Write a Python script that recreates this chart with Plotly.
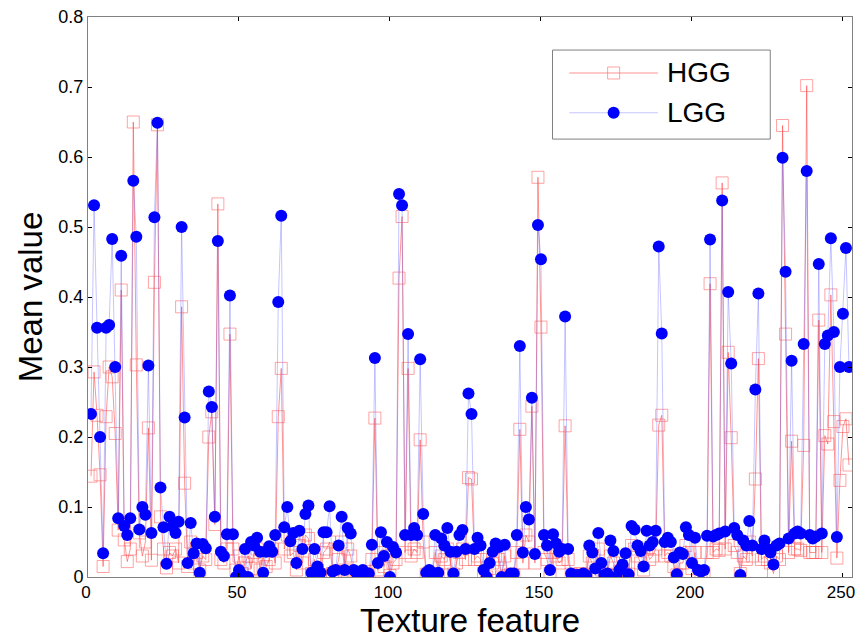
import plotly.graph_objects as go

# Mean value of each texture feature (index 1..252)
hgg = [
    0.144, 0.293, 0.231, 0.146, 0.015, 0.229, 0.300, 0.286, 0.205, 0.067,
    0.410, 0.053, 0.022, 0.040, 0.650, 0.303, 0.063, 0.030, 0.050, 0.213,
    0.024, 0.421, 0.646, 0.086, 0.040, 0.013, 0.035, 0.030, 0.040, 0.020,
    0.386, 0.134, 0.015, 0.050, 0.020, 0.035, 0.010, 0.030, 0.025, 0.200,
    0.236, 0.075, 0.533, 0.025, 0.020, 0.040, 0.347, 0.040, 0.010, 0.030,
    0.005, 0.020, 0.030, 0.012, 0.035, 0.040, 0.010, 0.030, 0.015, 0.025,
    0.040, 0.020, 0.229, 0.298, 0.040, 0.060, 0.030, 0.035, 0.010, 0.045,
    0.020, 0.060, 0.055, 0.005, 0.025, 0.010, 0.003, 0.035, 0.040, 0.050,
    0.005, 0.008, 0.025, 0.050, 0.010, 0.040, 0.030, 0.005, 0.003, 0.000,
    0.005, 0.002, 0.004, 0.025, 0.227, 0.010, 0.035, 0.015, 0.030, 0.002,
    0.020, 0.025, 0.427, 0.515, 0.035, 0.298, 0.030, 0.040, 0.035, 0.196,
    0.050, 0.004, 0.006, 0.004, 0.035, 0.003, 0.030, 0.025, 0.040, 0.020,
    0.004, 0.020, 0.035, 0.040, 0.025, 0.142, 0.140, 0.025, 0.030, 0.025,
    0.005, 0.000, 0.012, 0.020, 0.030, 0.025, 0.000, 0.030, 0.002, 0.004,
    0.003, 0.035, 0.211, 0.020, 0.060, 0.050, 0.244, 0.020, 0.571, 0.357,
    0.035, 0.025, 0.005, 0.035, 0.030, 0.020, 0.025, 0.216, 0.025, 0.004,
    0.002, 0.003, 0.005, 0.002, 0.004, 0.030, 0.020, 0.008, 0.040, 0.010,
    0.003, 0.004, 0.030, 0.020, 0.002, 0.008, 0.010, 0.020, 0.004, 0.045,
    0.040, 0.030, 0.020, 0.010, 0.040, 0.025, 0.030, 0.040, 0.217, 0.231,
    0.030, 0.035, 0.030, 0.015, 0.003, 0.020, 0.020, 0.045, 0.035, 0.012,
    0.035, 0.005, 0.004, 0.006, 0.035, 0.419, 0.035, 0.040, 0.038, 0.563,
    0.040, 0.321, 0.199, 0.045, 0.035, 0.005, 0.030, 0.025, 0.050, 0.030,
    0.140, 0.312, 0.025, 0.030, 0.025, 0.020, 0.005, 0.030, 0.025, 0.645,
    0.347, 0.035, 0.194, 0.040, 0.040, 0.038, 0.188, 0.702, 0.035, 0.035,
    0.035, 0.367, 0.035, 0.202, 0.190, 0.403, 0.222, 0.027, 0.138, 0.215,
    0.226, 0.160,
]

lgg = [
    0.233, 0.531, 0.356, 0.200, 0.034, 0.356, 0.360, 0.483, 0.300, 0.084,
    0.459, 0.073, 0.060, 0.084, 0.566, 0.486, 0.068, 0.100, 0.089, 0.302,
    0.063, 0.514, 0.649, 0.128, 0.071, 0.019, 0.086, 0.072, 0.063, 0.079,
    0.500, 0.228, 0.020, 0.077, 0.034, 0.048, 0.006, 0.047, 0.041, 0.265,
    0.243, 0.086, 0.480, 0.036, 0.030, 0.061, 0.402, 0.061, 0.000, 0.010,
    0.003, 0.040, 0.000, 0.050, 0.045, 0.056, 0.036, 0.006, 0.036, 0.044,
    0.036, 0.060, 0.393, 0.516, 0.071, 0.100, 0.051, 0.063, 0.020, 0.066,
    0.040, 0.090, 0.102, 0.006, 0.040, 0.015, 0.006, 0.064, 0.064, 0.101,
    0.008, 0.010, 0.045, 0.086, 0.010, 0.070, 0.062, 0.010, 0.005, 0.000,
    0.010, 0.003, 0.005, 0.046, 0.313, 0.020, 0.064, 0.030, 0.050, 0.000,
    0.043, 0.035, 0.547, 0.531, 0.060, 0.347, 0.060, 0.070, 0.060, 0.311,
    0.090, 0.006, 0.010, 0.006, 0.060, 0.006, 0.055, 0.045, 0.070, 0.036,
    0.005, 0.036, 0.060, 0.067, 0.040, 0.262, 0.233, 0.040, 0.056, 0.045,
    0.010, 0.000, 0.020, 0.036, 0.048, 0.043, 0.000, 0.046, 0.000, 0.005,
    0.005, 0.060, 0.330, 0.035, 0.100, 0.082, 0.256, 0.033, 0.503, 0.454,
    0.060, 0.045, 0.010, 0.061, 0.048, 0.036, 0.040, 0.372, 0.040, 0.005,
    0.000, 0.003, 0.000, 0.005, 0.002, 0.045, 0.035, 0.012, 0.063, 0.020,
    0.003, 0.005, 0.052, 0.037, 0.000, 0.010, 0.018, 0.034, 0.004, 0.073,
    0.068, 0.045, 0.037, 0.015, 0.066, 0.045, 0.050, 0.066, 0.472, 0.348,
    0.050, 0.056, 0.050, 0.028, 0.004, 0.035, 0.033, 0.071, 0.060, 0.020,
    0.056, 0.010, 0.008, 0.010, 0.059, 0.482, 0.058, 0.060, 0.062, 0.538,
    0.065, 0.407, 0.305, 0.070, 0.060, 0.003, 0.052, 0.045, 0.080, 0.045,
    0.268, 0.405, 0.040, 0.052, 0.040, 0.035, 0.018, 0.045, 0.048, 0.599,
    0.436, 0.055, 0.309, 0.062, 0.065, 0.062, 0.333, 0.580, 0.060, 0.055,
    0.058, 0.447, 0.062, 0.333, 0.345, 0.484, 0.350, 0.057, 0.300, 0.376,
    0.470, 0.300,
]

features = list(range(1, len(lgg) + 1))
x_ticks = [0, 50, 100, 150, 200, 250]
y_ticks = [0, 0.1, 0.2, 0.3, 0.4, 0.5, 0.6, 0.7, 0.8]
y_tick_text = ["0", "0.1", "0.2", "0.3", "0.4", "0.5", "0.6", "0.7", "0.8"]
series_names = ["HGG", "LGG"]

RED_LINE = "rgba(255,60,60,0.55)"
RED_MARK = "rgba(255,90,90,0.55)"
BLUE_LINE = "rgba(90,90,255,0.35)"
BLUE_MARK = "#0000ff"
FONT = "Arial, Liberation Sans"

fig = go.Figure()
fig.add_trace(go.Scatter(
    x=features, y=hgg, name=series_names[0], mode="lines+markers",
    line=dict(color=RED_LINE, width=1),
    marker=dict(symbol="square-open", size=12, color=RED_MARK, line=dict(width=1)),
))
fig.add_trace(go.Scatter(
    x=features, y=lgg, name=series_names[1], mode="lines+markers",
    line=dict(color=BLUE_LINE, width=1),
    marker=dict(symbol="circle", size=12, color=BLUE_MARK, line=dict(width=0)),
))

axis_common = dict(
    showgrid=False, zeroline=False, showline=True, linecolor="#808080",
    linewidth=1, mirror="ticks", ticks="inside", ticklen=4, automargin=False,
    ticklabeloverflow="allow", tickcolor="#000000",
)
fig.update_xaxes(range=[0, 253], tickvals=x_ticks, ticklabelshift=-2,
                 tickfont=dict(family=FONT, size=17, color="#000"),
                 title=dict(text="Texture feature",
                            font=dict(family=FONT, size=33, color="#000"),
                            standoff=7),
                 **axis_common)
fig.update_yaxes(range=[0, 0.8], tickvals=y_ticks, ticktext=y_tick_text,
                 tickfont=dict(family=FONT, size=18, color="#000"),
                 title=dict(text="Mean value",
                            font=dict(family=FONT, size=33, color="#000"),
                            standoff=5),
                 **axis_common)

# Custom MATLAB-style legend (paper coordinates)
L, R, T, B = 0.608, 0.893, 0.941, 0.782
rows = [0.900, 0.829]
shapes = [dict(type="rect", xref="paper", yref="paper", x0=L, x1=R, y0=B, y1=T,
               line=dict(color="#808080", width=1), fillcolor="white", layer="above")]
annotations = []
cols = [(RED_LINE, RED_MARK, "square"), (BLUE_LINE, BLUE_MARK, "circle")]
for name, yy, (lc, mc, sym) in zip(series_names, rows, cols):
    shapes.append(dict(type="line", xref="paper", yref="paper", x0=0.63, x1=0.746,
                       y0=yy, y1=yy, line=dict(color=lc, width=1), layer="above"))
    if sym == "square":
        shapes.append(dict(type="rect", xref="paper", yref="paper",
                           xsizemode="pixel", ysizemode="pixel",
                           xanchor=0.688, yanchor=yy, x0=-6, x1=6, y0=-6, y1=6,
                           line=dict(color=mc, width=1), fillcolor="rgba(0,0,0,0)",
                           layer="above"))
    else:
        shapes.append(dict(type="circle", xref="paper", yref="paper",
                           xsizemode="pixel", ysizemode="pixel",
                           xanchor=0.688, yanchor=yy, x0=-6, x1=6, y0=-6, y1=6,
                           line=dict(color=mc, width=0), fillcolor=mc, layer="above"))
    annotations.append(dict(text=name, xref="paper", yref="paper", x=0.755, y=yy,
                            xanchor="left", yanchor="middle", showarrow=False,
                            font=dict(family=FONT, size=28, color="#000")))

fig.update_layout(
    width=855, height=642,
    margin=dict(l=88, r=3, t=17, b=65),
    plot_bgcolor="white", paper_bgcolor="white",
    showlegend=False,
    shapes=shapes, annotations=annotations,
)

fig.write_html("out.html", config={"displayModeBar": False},
               post_script="document.body.style.margin='0';document.body.style.overflow='hidden';")
